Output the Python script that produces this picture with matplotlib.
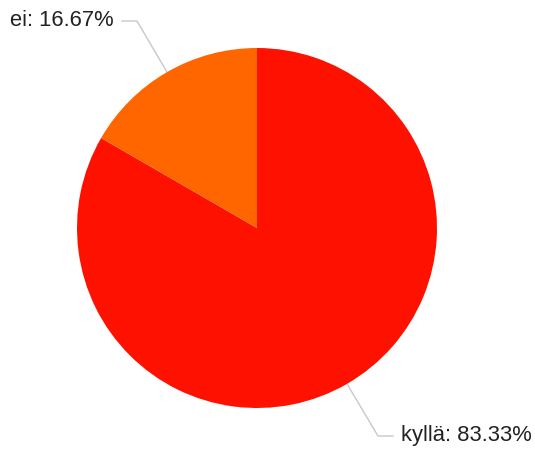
import numpy as np
import matplotlib.pyplot as plt

labels = ['kyllä', 'ei']
shares = [83.33, 16.67]
colors = ['#ff1100', '#ff6600']

W, H = 535, 451
fig = plt.figure(figsize=(W / 100, H / 100), dpi=100)
ax = fig.add_axes([0, 0, 1, 1])

cx, cy, r = 257, 223, 180
wedges, _ = ax.pie(shares, colors=colors, startangle=90, counterclock=False,
                   center=(cx, cy), radius=r, frame=True,
                   wedgeprops=dict(linewidth=0))
ax.set_xlim(0, W)
ax.set_ylim(0, H)
ax.set_aspect('equal')
ax.axis('off')

# leader lines from the middle of each wedge to its label
elbows = {'ei': (137, 430), 'kyllä': (378, 15)}
for w, lab, val in zip(wedges, labels, shares):
    ang = np.deg2rad((w.theta1 + w.theta2) / 2)
    px, py = cx + r * np.cos(ang), cy + r * np.sin(ang)
    ex, ey = elbows[lab]
    left = np.cos(ang) < 0
    end = ex - 15 if left else ex + 15
    ax.plot([px, ex, end], [py, ey, ey], color='#c8c8c8', lw=1, zorder=0)
    tx = end - 8 if left else end + 8
    ax.text(tx, ey, f'{lab}: {val:.2f}%', ha='right' if left else 'left',
            va='center', fontsize=15.8, color='#222222',
            family='Liberation Sans')

fig.savefig('out.png', dpi=100)
